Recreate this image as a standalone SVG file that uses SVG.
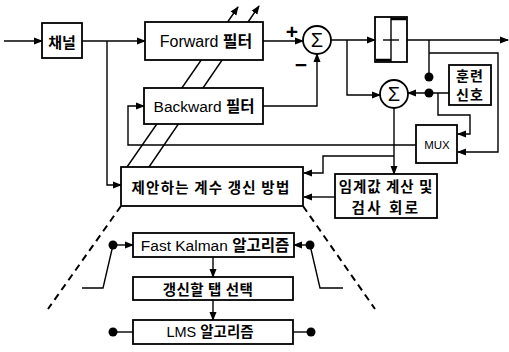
<svg xmlns="http://www.w3.org/2000/svg" width="509" height="352" viewBox="0 0 509 352">
<style>
.box{fill:#fff;stroke:#000;stroke-width:1.8}
.ln{fill:none;stroke:#000;stroke-width:1.4}
.dash{fill:none;stroke:#000;stroke-width:2;stroke-dasharray:7 5}
.t{font-family:"Liberation Sans","Noto Sans CJK KR",sans-serif;fill:#000;text-anchor:middle;dominant-baseline:central}
.k{font-family:"Noto Sans CJK KR","Liberation Sans",sans-serif;fill:#000;text-anchor:middle;dominant-baseline:central;font-weight:bold}
.b{font-weight:bold}
.dot{fill:#000}
</style>
<defs>
<marker id="ar" markerUnits="userSpaceOnUse" markerWidth="9" markerHeight="8" refX="8" refY="4" orient="auto">
<path d="M0,0.5 L9,4 L0,7.5 z" fill="#000"/>
</marker>
</defs>
<g id="connectors">
<line class="ln" x1="127" y1="167" x2="238" y2="7" marker-end="url(#ar)"/>
<line class="ln" x1="149" y1="167" x2="259" y2="6" marker-end="url(#ar)"/>
<line class="ln" x1="4" y1="41" x2="42" y2="41" marker-end="url(#ar)"/>
<line class="ln" x1="82" y1="41" x2="145" y2="41" marker-end="url(#ar)"/>
<polyline class="ln" points="107,41 107,185 121,185" marker-end="url(#ar)"/>
<line class="ln" x1="263" y1="41" x2="303" y2="41" marker-end="url(#ar)"/>
<polyline class="ln" points="263,106 317,106 317,54" marker-end="url(#ar)"/>
<line class="ln" x1="331" y1="40" x2="375" y2="40" marker-end="url(#ar)"/>
<polyline class="ln" points="347,40 347,95 380,95" marker-end="url(#ar)"/>
<line class="ln" x1="407" y1="40" x2="508" y2="40" marker-end="url(#ar)"/>
<line class="ln" x1="429" y1="40" x2="429" y2="77"/>
<polyline class="ln" points="429,53 498,53 498,152 458,152" marker-end="url(#ar)"/>
<line class="ln" x1="449" y1="93" x2="408" y2="93" marker-end="url(#ar)"/>
<polyline class="ln" points="438,93 438,115 470,115 470,134 458,134" marker-end="url(#ar)"/>
<polyline class="ln" points="416,145 128,145 128,106 144,106" marker-end="url(#ar)"/>
<line class="ln" x1="394" y1="108" x2="394" y2="174" marker-end="url(#ar)"/>
<polyline class="ln" points="394,156 323,156 323,173 304,173" marker-end="url(#ar)"/>
<line class="ln" x1="335" y1="197" x2="304" y2="197" marker-end="url(#ar)"/>
<line class="dash" x1="121" y1="206" x2="48" y2="309"/>
<line class="dash" x1="303" y1="206" x2="375" y2="309"/>
<line class="ln" x1="213" y1="257" x2="213" y2="277" marker-end="url(#ar)"/>
<line class="ln" x1="213" y1="300" x2="213" y2="320" marker-end="url(#ar)"/>
<polyline class="ln" points="82,288 103,288 113,245"/>
<line class="ln" x1="113" y1="245" x2="133" y2="245" marker-end="url(#ar)"/>
<polyline class="ln" points="343,288 320,288 310,245"/>
<line class="ln" x1="310" y1="245" x2="294" y2="245" marker-end="url(#ar)"/>
<line class="ln" x1="113" y1="332" x2="133" y2="332"/>
<line class="ln" x1="293" y1="332" x2="311" y2="332"/>
<circle class="dot" cx="429" cy="77" r="4.5"/>
<circle class="dot" cx="429" cy="93" r="4.5"/>
<circle class="dot" cx="113" cy="245" r="4.5"/>
<circle class="dot" cx="310" cy="245" r="4.5"/>
<circle class="dot" cx="113" cy="332" r="4.5"/>
<circle class="dot" cx="311" cy="332" r="4.5"/>
</g>
<g id="channel">
<rect class="box" x="42" y="23" width="40" height="35"/>
<text class="k" x="62" y="41" font-size="15">채널</text>
</g>
<g id="forward">
<rect class="box" x="145" y="22" width="118" height="38"/>
<text class="t" x="206" y="41" font-size="16">Forward <tspan class="b">필터</tspan></text>
</g>
<g id="backward">
<rect class="box" x="144" y="88" width="119" height="36"/>
<text class="t" x="204" y="106" font-size="15.5">Backward <tspan class="b">필터</tspan></text>
</g>
<g id="sum1">
<circle class="box" cx="317" cy="40" r="14"/>
<text class="t" x="317" y="40" font-size="20">Σ</text>
<text class="t b" x="292" y="31" font-size="21">+</text>
<text class="t b" x="301" y="64" font-size="21">−</text>
</g>
<g id="decision">
<rect class="box" x="375" y="17" width="32" height="45"/>
<line class="ln" x1="391" y1="17" x2="391" y2="62"/>
<line class="ln" x1="383" y1="40" x2="399" y2="40"/>
<line x1="391" y1="19" x2="406" y2="19" stroke="#000" stroke-width="2.5"/>
<line x1="376" y1="60" x2="391" y2="60" stroke="#000" stroke-width="2.5"/>
</g>
<g id="sum2">
<circle class="box" cx="394" cy="94" r="14"/>
<text class="t" x="394" y="94" font-size="20">Σ</text>
</g>
<g id="training">
<rect class="box" x="449" y="65" width="42" height="40"/>
<text class="k" x="470" y="75" font-size="14" letter-spacing="1">훈련</text>
<text class="k" x="470" y="94" font-size="14" letter-spacing="1">신호</text>
</g>
<g id="mux">
<rect class="box" x="416" y="125" width="41" height="38"/>
<text class="t" x="437" y="145" font-size="11.5">MUX</text>
</g>
<g id="method">
<rect class="box" x="121" y="167" width="182" height="39"/>
<text class="k" x="211" y="186" font-size="14.5" letter-spacing="1.2">제안하는 계수 갱신 방법</text>
</g>
<g id="threshold">
<rect class="box" x="335" y="174" width="102" height="44"/>
<text class="k" x="386" y="185" font-size="14.5" letter-spacing="1">임계값 계산 및</text>
<text class="k" x="386" y="206" font-size="14.5" letter-spacing="2.5">검사 회로</text>
</g>
<g id="fastkalman">
<rect class="box" x="133" y="233" width="161" height="24"/>
<text class="t" x="215" y="245" font-size="15.5">Fast Kalman <tspan class="b">알고리즘</tspan></text>
</g>
<g id="tapselect">
<rect class="box" x="133" y="277" width="160" height="23"/>
<text class="k" x="208" y="288" font-size="14.5" letter-spacing="0.5">갱신할 탭 선택</text>
</g>
<g id="lms">
<rect class="box" x="133" y="320" width="160" height="24"/>
<text class="t" x="210" y="332" font-size="14.5">LMS <tspan class="b">알고리즘</tspan></text>
</g>
</svg>
